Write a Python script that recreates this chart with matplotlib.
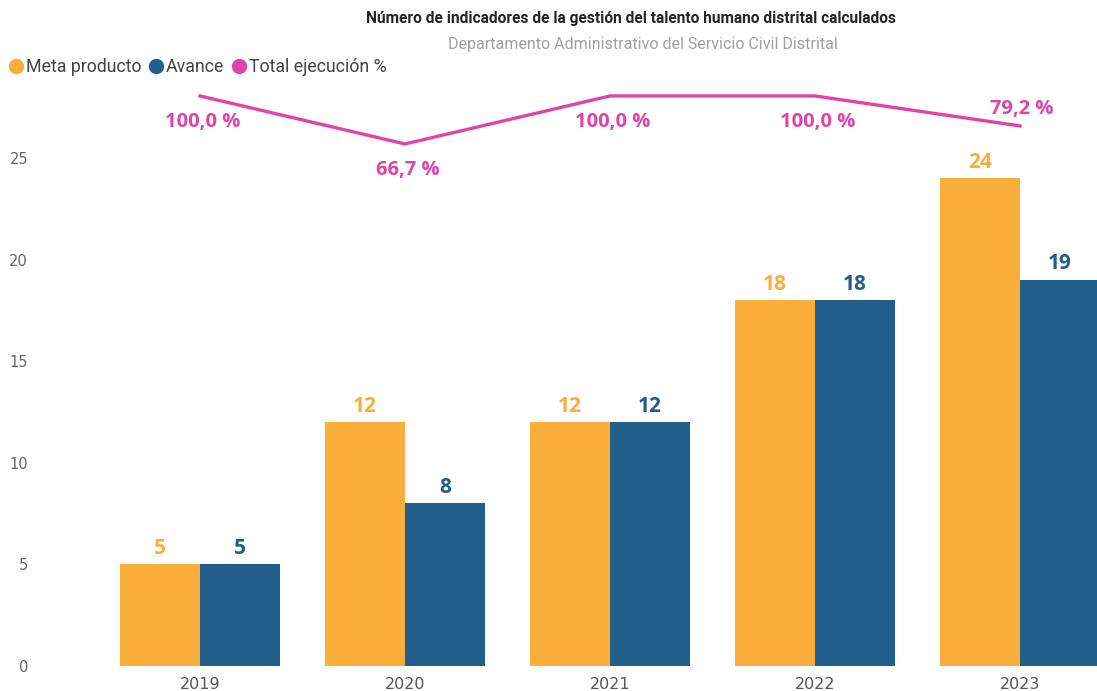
import numpy as np
import matplotlib
matplotlib.use("Agg")
import matplotlib.pyplot as plt
from matplotlib.lines import Line2D

# Data
years = ["2019", "2020", "2021", "2022", "2023"]
meta_producto = [5, 12, 12, 18, 24]
avance = [5, 8, 12, 18, 19]
total_ejecucion = [100.0, 66.7, 100.0, 100.0, 79.2]

c_meta = "#F9AE3B"
c_avance = "#215F8A"
c_pct = "#E044A7"

narrow = ["Roboto", "DejaVu Sans"]
bold_font = ["Open Sans", "DejaVu Sans"]

fig = plt.figure(figsize=(10.97, 6.91), dpi=100)
ax = fig.add_axes([97.5 / 1097, 25 / 691, (1097 - 97.5) / 1097, 581 / 691])

x = np.arange(len(years))
w = 80 / 205

bars_meta = ax.bar(x - w / 2, meta_producto, width=w, color=c_meta)
bars_av = ax.bar(x + w / 2, avance, width=w, color=c_avance)

ax.set_xlim(-0.5, (1097 - 200) / 205)
ax.set_ylim(0, 581 / 20.32)

for b, v in zip(bars_meta, meta_producto):
    ax.annotate(str(v), (b.get_x() + b.get_width() / 2, v), xytext=(0, 4),
                textcoords="offset points", ha="center", va="bottom",
                color=c_meta, fontsize=15, fontweight="bold", family=bold_font)
for b, v in zip(bars_av, avance):
    ax.annotate(str(v), (b.get_x() + b.get_width() / 2, v), xytext=(0, 4),
                textcoords="offset points", ha="center", va="bottom",
                color=c_avance, fontsize=15, fontweight="bold", family=bold_font)

ax.set_yticks([0, 5, 10, 15, 20, 25])
ax.set_xticks(x)
ax.set_xticklabels(years)
ax.tick_params(axis="y", length=0, pad=50, labelsize=10.5, labelcolor="#666666")
ax.tick_params(axis="x", length=0, pad=8, labelsize=11.5, labelcolor="#555555")
for spine in ax.spines.values():
    spine.set_visible(False)

# Secondary axis for the percentage line
ax2 = ax.twinx()
ax2.set_ylim(-295.5, 107.6)
ax2.plot(x, total_ejecucion, color=c_pct, linewidth=2.4, solid_joinstyle="miter")
ax2.set_yticks([])
for spine in ax2.spines.values():
    spine.set_visible(False)

for i, v in enumerate(total_ejecucion):
    txt = f"{v:.1f} %".replace(".", ",")
    if i == len(total_ejecucion) - 1:
        off = (1, 12)
    else:
        off = (2, -19)
    ax2.annotate(txt, (x[i], v), xytext=off, textcoords="offset points",
                 ha="center", va="center", color=c_pct, fontsize=14.5,
                 fontweight="bold", family=bold_font)

# Titles
fig.text(0.575, 1 - 18 / 691, "Número de indicadores de la gestión del talento humano distrital calculados",
         ha="center", va="center", fontsize=11.2, fontweight="bold", color="#252525", family=narrow)
fig.text(0.586, 1 - 45 / 691, "Departamento Administrativo del Servicio Civil Distrital",
         ha="center", va="center", fontsize=11.5, color="#A0A0A0", family=narrow)

# Legend
handles = [
    Line2D([], [], marker="o", linestyle="none", color=c_meta, markersize=10),
    Line2D([], [], marker="o", linestyle="none", color=c_avance, markersize=10),
    Line2D([], [], marker="o", linestyle="none", color=c_pct, markersize=10),
]
fig.legend(handles, ["Meta producto", "Avance", "Total ejecución %"],
           loc="center left", bbox_to_anchor=(6 / 1097, 1 - 67 / 691), ncol=3,
           frameon=False, handlelength=0.7, handletextpad=0.2, columnspacing=0.5,
           borderaxespad=0, borderpad=0.2,
           prop={"family": narrow, "size": 12.8}, labelcolor="#444444")

fig.savefig("out.png", dpi=100)
